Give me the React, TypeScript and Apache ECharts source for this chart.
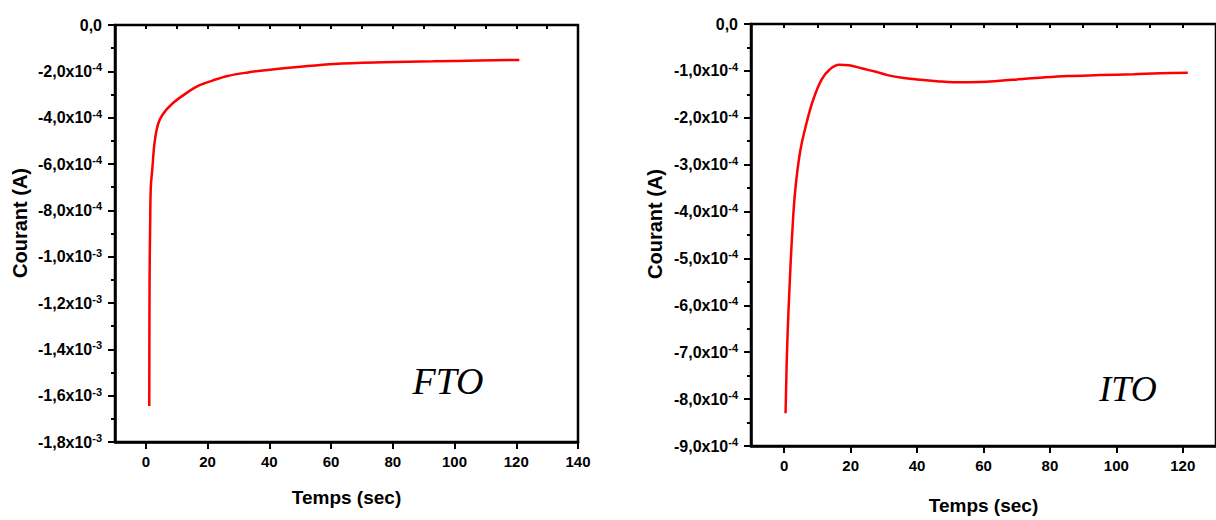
import React, { useEffect, useRef } from "react";
import * as echarts from "echarts";

// FTO chronoamperometry (time in s, current in A)
const ftoTime = [1.1, 1.2, 1.4, 1.6, 2.1, 2.8, 3.9, 5.5, 8.7, 13, 17.4, 21.6, 26.5, 33, 39.5, 50, 61, 77, 93, 108, 121];
const ftoCurrent = [
  -1.645e-3, -1.1e-3, -8.5e-4, -7.0e-4, -6.2e-4, -5.1e-4, -4.3e-4, -3.85e-4, -3.38e-4, -2.95e-4,
  -2.6e-4, -2.4e-4, -2.2e-4, -2.05e-4, -1.94e-4, -1.8e-4, -1.68e-4, -1.61e-4, -1.57e-4, -1.53e-4, -1.51e-4,
];

// ITO chronoamperometry
const itoTime = [0.4, 0.9, 1.7, 2.4, 3.3, 4.8, 6.8, 8.8, 11.3, 13.7, 16.5, 19.5, 23.5, 27.6, 31.1, 36, 41, 46, 51, 59, 65, 70.6, 78, 85.4, 95, 105.2, 113, 121.5];
const itoCurrent = [
  -8.3e-4, -6.86e-4, -5.46e-4, -4.48e-4, -3.56e-4, -2.72e-4, -2.09e-4, -1.6e-4, -1.18e-4, -9.7e-5,
  -8.7e-5, -8.8e-5, -9.5e-5, -1.02e-4, -1.09e-4, -1.15e-4, -1.19e-4, -1.22e-4, -1.24e-4, -1.235e-4,
  -1.21e-4, -1.18e-4, -1.14e-4, -1.11e-4, -1.09e-4, -1.07e-4, -1.05e-4, -1.04e-4,
];

const ftoXTicks = [0, 20, 40, 60, 80, 100, 120, 140];
const itoXTicks = [0, 20, 40, 60, 80, 100, 120];

const xTitle = "Temps (sec)";
const yTitle = "Courant (A)";

const FONT = '"Liberation Sans", Arial, sans-serif';

function sciLabel(v: number): string {
  if (Math.abs(v) < 1e-12) return "{m|0,0}";
  let e = Math.floor(Math.log10(Math.abs(v)) + 1e-9);
  let m = v / Math.pow(10, e);
  let s = m.toFixed(1);
  if (Math.abs(parseFloat(s)) >= 10) {
    e += 1;
    s = (v / Math.pow(10, e)).toFixed(1);
  }
  return "{m|" + s.replace(".", ",") + "x10}{s|" + e + "}";
}

const yLabelStyle = {
  show: true,
  margin: 13,
  color: "#000",
  formatter: (v: number) => sciLabel(v),
  rich: {
    m: { fontSize: 16, fontWeight: "bold", fontFamily: FONT, color: "#000", lineHeight: 19 },
    s: { fontSize: 11, fontWeight: "bold", fontFamily: FONT, color: "#000", verticalAlign: "top", lineHeight: 11 },
  },
};

const axisLine = { show: true, onZero: false, lineStyle: { color: "#000", width: 2.5 } };

function makeXAxes(gridIndex: number, max: number, majors: number[], nameGap: number) {
  return [
    {
      type: "value",
      gridIndex,
      position: "bottom",
      min: -10,
      max,
      interval: 10,
      axisLine,
      splitLine: { show: false },
      axisTick: { show: true, customValues: majors, length: 7, inside: false, lineStyle: { color: "#000", width: 2 } },
      axisLabel: {
        show: true,
        customValues: majors,
        margin: 12,
        color: "#000",
        fontSize: 15,
        fontWeight: "bold",
        fontFamily: FONT,
      },
      name: xTitle,
      nameLocation: "middle",
      nameGap,
      nameTextStyle: { color: "#000", fontSize: 19, fontWeight: "bold", fontFamily: FONT },
    },
    {
      type: "value",
      gridIndex,
      position: "bottom",
      min: -10,
      max,
      interval: 10,
      axisLine: { show: false },
      splitLine: { show: false },
      axisTick: { show: true, length: 4, lineStyle: { color: "#000", width: 2 } },
      axisLabel: { show: false },
    },
  ];
}

function makeYAxis(gridIndex: number, min: number, interval: number) {
  return {
    type: "value",
    gridIndex,
    position: "left",
    min,
    max: 0,
    interval,
    axisLine,
    splitLine: { show: false },
    axisTick: { show: true, length: 7, lineStyle: { color: "#000", width: 2 } },
    minorTick: { show: true, splitNumber: 2, length: 4, lineStyle: { color: "#000", width: 2 } },
    minorSplitLine: { show: false },
    axisLabel: yLabelStyle,
  };
}

export default function App() {
  const ref = useRef<HTMLDivElement>(null);
  useEffect(() => {
    if (!ref.current) return;
    const chart = echarts.init(ref.current, null, { renderer: "svg" });
    const lineStyle = { color: "#ff0000", width: 2.5 };
    chart.setOption({
      animation: false,
      backgroundColor: "#fff",
      grid: [
        { left: 115, top: 25, width: 463, height: 417, show: true, borderColor: "#000", borderWidth: 2.5, backgroundColor: "transparent" },
        { left: 751, top: 24, width: 473, height: 428, show: true, borderColor: "#000", borderWidth: 2.5, backgroundColor: "transparent" },
      ],
      xAxis: [...makeXAxes(0, 140, ftoXTicks, 46), ...makeXAxes(1, 130, itoXTicks, 50)],
      yAxis: [makeYAxis(0, -1.8e-3, 2e-4), makeYAxis(1, -9e-4, 1e-4)],
      series: [
        {
          type: "line",
          xAxisIndex: 0,
          yAxisIndex: 0,
          data: ftoTime.map((t, i) => [t, ftoCurrent[i]]),
          showSymbol: false,
          smooth: 0.35,
          lineStyle,
          itemStyle: { color: "#ff0000" },
        },
        {
          type: "line",
          xAxisIndex: 2,
          yAxisIndex: 1,
          data: itoTime.map((t, i) => [t, itoCurrent[i]]),
          showSymbol: false,
          smooth: 0.4,
          lineStyle,
          itemStyle: { color: "#ff0000" },
        },
      ],
      graphic: [
        {
          type: "text",
          x: 20,
          y: 223,
          rotation: Math.PI / 2,
          style: { text: yTitle, fill: "#000", font: 'bold 20px "Liberation Sans", Arial, sans-serif', align: "center", verticalAlign: "middle" },
        },
        {
          type: "text",
          x: 655,
          y: 224,
          rotation: Math.PI / 2,
          style: { text: yTitle, fill: "#000", font: 'bold 20px "Liberation Sans", Arial, sans-serif', align: "center", verticalAlign: "middle" },
        },
        {
          type: "text",
          x: 448,
          y: 381,
          style: { text: "FTO", fill: "#000", font: 'italic 38px "Liberation Serif", "DejaVu Serif", serif', align: "center", verticalAlign: "middle" },
        },
        {
          type: "text",
          x: 1128,
          y: 389,
          style: { text: "ITO", fill: "#000", font: 'italic 36px "Liberation Serif", "DejaVu Serif", serif', align: "center", verticalAlign: "middle" },
        },
      ],
    });
    return () => chart.dispose();
  }, []);
  return <div ref={ref} style={{ position: "absolute", left: 0, top: 0, width: 1216, height: 520 }} />;
}
